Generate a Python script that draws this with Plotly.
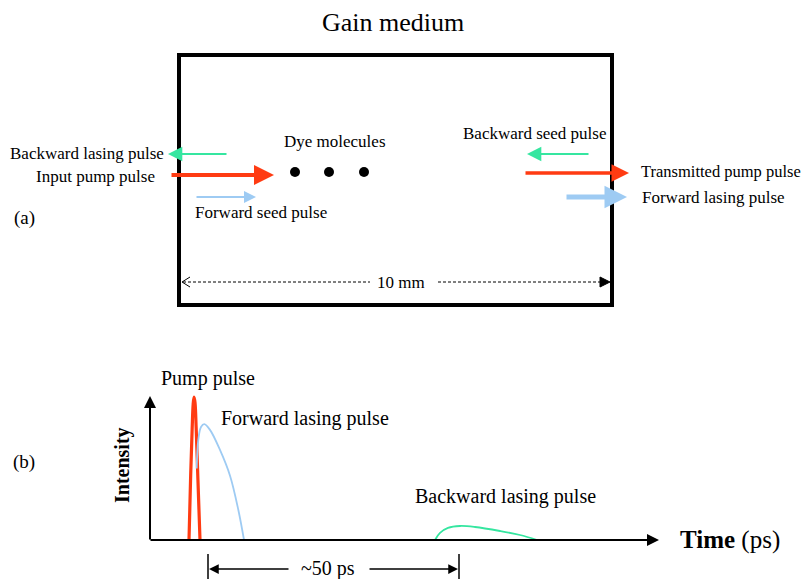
import plotly.graph_objects as go

# ---------------- data ----------------
title_text = "Gain medium"
panel_a_labels = ["Backward lasing pulse", "Input pump pulse", "Forward seed pulse",
                  "Dye molecules", "Backward seed pulse", "Transmitted pump pulse",
                  "Forward lasing pulse", "10 mm", "(a)"]
panel_b_labels = ["Pump pulse", "Forward lasing pulse", "Backward lasing pulse", "~50 ps", "(b)"]

# pulse shapes in panel (b): time (ps) vs intensity (a.u.)
pump_t = [7.77, 8.1, 8.4, 8.6, 8.77, 8.97, 9.2, 9.55, 9.96]
pump_i = [0.0, 0.45, 0.78, 0.95, 1.0, 0.96, 0.78, 0.42, 0.0]
fwd_t = [9.30, 9.62, 10.16, 10.82, 11.95, 13.94, 15.94, 17.6, 18.73]
fwd_i = [0.50, 0.70, 0.79, 0.81, 0.77, 0.63, 0.45, 0.21, 0.0]
bwd_t = [56.77, 57.77, 59.36, 61.75, 64.74, 69.72, 73.7, 77.1]
bwd_i = [0.0, 0.05, 0.085, 0.098, 0.091, 0.063, 0.035, 0.0]

# ---------------- styling ----------------
SERIF = "Liberation Serif, Times New Roman, serif"
RED = "#ff3b12"
GREEN = "#35e6a0"
BLUE = "#9ecbf3"
OFF = 8            # page body margin of the html page
W, H = 810 - OFF, 579 - OFF
PX_PER_PS = 5.02
T0_PX = 150
PX_PER_I = 143
I0_PX = 540

fig = go.Figure()

fig.add_trace(go.Scatter(x=pump_t, y=pump_i, mode="lines", xaxis="x2", yaxis="y2",
                         line=dict(color=RED, width=3.2, shape="spline"), hoverinfo="skip"))
fig.add_trace(go.Scatter(x=fwd_t, y=fwd_i, mode="lines", xaxis="x2", yaxis="y2",
                         line=dict(color=BLUE, width=1.8, shape="spline"), hoverinfo="skip"))
fig.add_trace(go.Scatter(x=bwd_t, y=bwd_i, mode="lines", xaxis="x2", yaxis="y2",
                         line=dict(color=GREEN, width=1.8, shape="spline"), hoverinfo="skip"))

shapes = []
# box of gain medium
shapes.append(dict(type="rect", x0=179, y0=55, x1=612, y1=305, xref="x", yref="y",
                   line=dict(color="black", width=4)))
# dye molecules
for cx in [295, 329, 364]:
    shapes.append(dict(type="circle", x0=cx - 5, x1=cx + 5, y0=167, y1=177, xref="x", yref="y",
                       fillcolor="black", line=dict(color="black", width=0)))
# dashed 10 mm line
shapes.append(dict(type="line", x0=183, x1=370, y0=282, y1=282, xref="x", yref="y",
                   line=dict(color="black", width=1, dash="3px,2px")))
shapes.append(dict(type="line", x0=438, x1=602, y0=282, y1=282, xref="x", yref="y",
                   line=dict(color="black", width=1, dash="3px,2px")))
shapes.append(dict(type="path", path="M 190 277 L 182 282 L 190 287", xref="x", yref="y",
                   line=dict(color="black", width=1)))
shapes.append(dict(type="path", path="M 600 277 L 610 282 L 600 287 Z", xref="x", yref="y",
                   fillcolor="black", line=dict(color="black", width=1)))
# dimension ticks for ~50 ps
for xx in [208, 459]:
    shapes.append(dict(type="line", x0=xx, x1=xx, y0=554, y1=579, xref="x", yref="y",
                       line=dict(color="black", width=1.5)))

annotations = []

def arrow(x_tip, y_tip, x_tail, y_tail, color, width, head=2, size=1.0):
    annotations.append(dict(x=x_tip, y=y_tip, ax=x_tail, ay=y_tail, xref="x", yref="y",
                            axref="x", ayref="y", text="", showarrow=True, arrowhead=head,
                            arrowsize=size, arrowwidth=width, arrowcolor=color, standoff=0))

def label(text, x, y, size, anchor="left", bold=False, angle=0):
    if bold:
        text = "<b>" + text + "</b>"
    annotations.append(dict(x=x, y=y, xref="x", yref="y", text=text, showarrow=False,
                            xanchor=anchor, yanchor="middle", textangle=angle,
                            font=dict(family=SERIF, size=size, color="black")))

# panel (a) arrows
arrow(168, 154, 228, 154, GREEN, 2.2, size=1.3)
arrow(274, 175, 170, 175, RED, 4, size=1.0)
arrow(256, 197, 195, 197, BLUE, 2, size=1.2)
arrow(527, 154, 590, 154, GREEN, 2.2, size=1.3)
arrow(629, 173, 524, 173, RED, 3.5, size=1.0)
arrow(627, 197, 565, 197, BLUE, 5, size=0.9)

# panel (b) axes
arrow(150, 396, 150, 541, "black", 2, size=1.2)
arrow(659, 540, 149, 540, "black", 2, size=1.2)
# ~50 ps dimension arrows
arrow(209, 569, 290, 569, "black", 1.5, size=1.3)
arrow(458, 569, 368, 569, "black", 1.5, size=1.3)

# text
label(title_text, 393, 22, 26, "center")
label(panel_a_labels[0], 166, 153, 17, "right")
label(panel_a_labels[1], 157, 176, 17, "right")
label(panel_a_labels[2], 193, 212, 17, "left")
label(panel_a_labels[3], 335, 141, 17, "center")
label(panel_a_labels[4], 461, 133, 17, "left")
label(panel_a_labels[5], 639, 171, 16.5, "left")
label(panel_a_labels[6], 640, 197, 17, "left")
label(panel_a_labels[7], 401, 282, 17, "center")
label(panel_a_labels[8], 24, 218, 19, "center")

label(panel_b_labels[0], 208, 378, 20, "center")
label(panel_b_labels[1], 219, 418, 20, "left")
label(panel_b_labels[2], 413, 496, 20, "left")
label(panel_b_labels[3], 328, 568, 20, "center")
label(panel_b_labels[4], 24, 462, 19, "center")
annotations.append(dict(x=678, y=540, xref="x", yref="y", showarrow=False, xanchor="left",
                        yanchor="middle", text="<b>Time</b> (ps)",
                        font=dict(family=SERIF, size=25, color="black")))
label("Intensity", 122, 465, 20, "center", bold=True, angle=-90)

fig.update_layout(
    width=W, height=H, margin=dict(l=0, r=0, t=0, b=0),
    paper_bgcolor="white", plot_bgcolor="white", showlegend=False,
    xaxis=dict(range=[OFF, OFF + W], visible=False, domain=[0, 1], fixedrange=True),
    yaxis=dict(range=[OFF + H, OFF], visible=False, domain=[0, 1], fixedrange=True),
    xaxis2=dict(range=[(OFF - T0_PX) / PX_PER_PS, (OFF + W - T0_PX) / PX_PER_PS],
                visible=False, overlaying="x", anchor="y2", domain=[0, 1]),
    yaxis2=dict(range=[(I0_PX - OFF - H) / PX_PER_I, (I0_PX - OFF) / PX_PER_I],
                visible=False, overlaying="y", anchor="x2", domain=[0, 1]),
    shapes=shapes, annotations=annotations,
)

fig.write_html("out.html")
